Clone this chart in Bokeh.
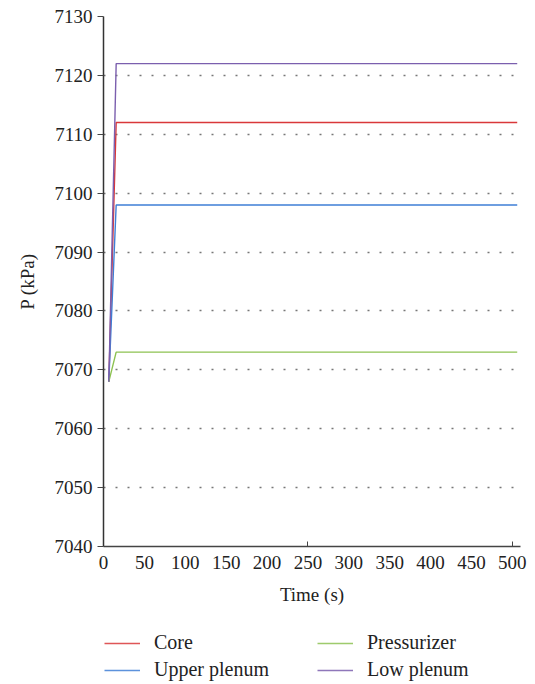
from bokeh.plotting import figure
from bokeh.models import FixedTicker, Legend, LegendItem, Range1d
from bokeh.layouts import column
from bokeh.embed import file_html
from bokeh.resources import INLINE

# ---- data ----
time = [6.5, 15.5, 506]
core = [7068, 7112, 7112]
upper_plenum = [7068, 7098, 7098]
pressurizer = [7068, 7073, 7073]
low_plenum = [7068, 7122, 7122]

series_names = ["Core", "Upper plenum", "Pressurizer", "Low plenum"]
series_colors = ["#d9383a", "#3f7fd6", "#8dc252", "#7b5fae"]

x_ticks = [0, 50, 100, 150, 200, 250, 300, 350, 400, 450, 500]
y_ticks = [7040, 7050, 7060, 7070, 7080, 7090, 7100, 7110, 7120, 7130]

FONT = "Liberation Serif"

p = figure(width=535, height=620, output_backend="svg", toolbar_location=None,
           x_range=Range1d(0, 510), y_range=Range1d(7040, 7130),
           min_border_left=103, min_border_right=15, min_border_top=16,
           min_border_bottom=74)
p.outline_line_color = None
p.background_fill_color = "white"

# grid
p.xgrid.visible = False
p.ygrid.ticker = FixedTicker(ticks=y_ticks)
p.ygrid.grid_line_color = "#777777"
p.ygrid.grid_line_dash = "2 10"
p.ygrid.grid_line_width = 1.5

# x axis
p.xaxis.ticker = FixedTicker(ticks=x_ticks, minor_ticks=[250, 500])
p.xaxis.major_tick_line_color = None
p.xaxis.major_tick_out = 0
p.xaxis.major_tick_in = 0
p.xaxis.minor_tick_in = 5
p.xaxis.minor_tick_out = 0
p.xaxis.minor_tick_line_color = "#444444"
p.xaxis.axis_line_color = "#444444"
p.xaxis.axis_line_width = 1.5
p.xaxis.major_label_standoff = 9
p.xaxis.major_label_text_font = FONT
p.xaxis.major_label_text_font_size = "19px"
p.xaxis.major_label_text_color = "#222222"
p.xaxis.axis_label = "Time (s)"
p.xaxis.axis_label_text_font = FONT
p.xaxis.axis_label_text_font_style = "normal"
p.xaxis.axis_label_text_font_size = "19px"
p.xaxis.axis_label_text_color = "#222222"
p.xaxis.axis_label_standoff = 12

# y axis
p.yaxis.ticker = FixedTicker(ticks=y_ticks)
p.yaxis.minor_tick_line_color = None
p.yaxis.major_tick_out = 6
p.yaxis.major_tick_in = 0
p.yaxis.major_tick_line_color = "#444444"
p.yaxis.axis_line_color = "#333333"
p.yaxis.axis_line_width = 1.5
p.yaxis.major_label_standoff = 5
p.yaxis.major_label_text_font = FONT
p.yaxis.major_label_text_font_size = "19px"
p.yaxis.major_label_text_color = "#222222"
p.yaxis.axis_label = "P (kPa)"
p.yaxis.axis_label_text_font = FONT
p.yaxis.axis_label_text_font_style = "normal"
p.yaxis.axis_label_text_font_size = "19px"
p.yaxis.axis_label_text_color = "#222222"
p.yaxis.axis_label_standoff = 14

# lines
for vals, col in zip([core, upper_plenum, pressurizer, low_plenum], series_colors):
    p.line(time, vals, line_color=col, line_width=1.4)

# legend in a separate strip below (its frame is aligned with the main frame)
lf = figure(width=535, height=64, output_backend="svg", toolbar_location=None,
            x_axis_type=None, y_axis_type=None,
            x_range=Range1d(0, 1), y_range=Range1d(0, 1),
            min_border_left=0, min_border_right=0, min_border_top=0,
            min_border_bottom=0)
lf.outline_line_color = None
lf.xgrid.visible = False
lf.ygrid.visible = False

items = []
for name, col in zip(series_names, series_colors):
    r = lf.line([-5, -4], [-5, -5], line_color=col, line_width=1.5, line_alpha=0.85)
    items.append(LegendItem(label=name, renderers=[r]))

legend = Legend(items=items, location=(1, 3), orientation="vertical", ncols=2,
                label_text_font=FONT, label_text_font_size="20px",
                label_text_color="#222222",
                glyph_width=36, glyph_height=16, label_standoff=14,
                label_width=159, spacing=4, padding=0, margin=0,
                border_line_color=None, background_fill_alpha=0)
lf.add_layout(legend)

layout = column(p, lf, spacing=0)
open("out.html", "w").write(file_html(layout, INLINE))
